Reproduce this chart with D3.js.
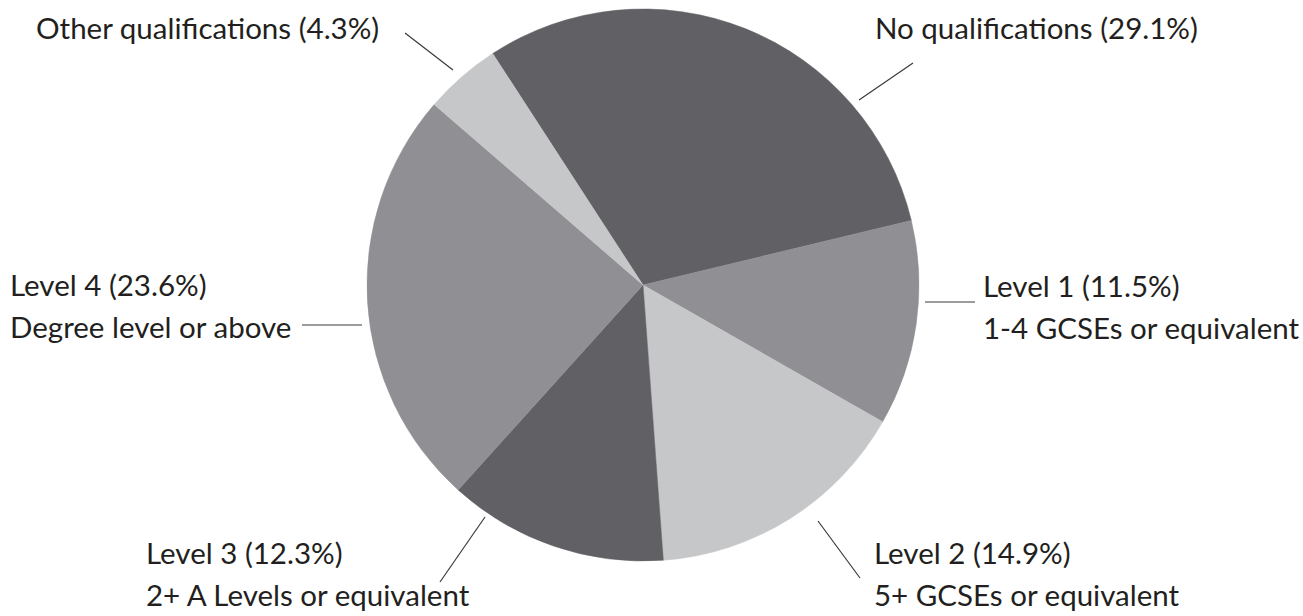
<!DOCTYPE html>
<html>
<head>
<meta charset="utf-8">
<script src="https://cdn.jsdelivr.net/npm/d3@7"></script>
<style>
  html, body { margin: 0; padding: 0; background: #ffffff; }
  svg { display: block; }
</style>
</head>
<body>
<svg id="chart" width="1303" height="616"></svg>
<script>
// ---- data ----
const categories = ["No qualifications", "Level 1", "Level 2", "Level 3", "Level 4", "Other qualifications"];
const values = [29.1, 11.5, 14.9, 12.3, 23.6, 4.3];
const subtitles = ["", "1-4 GCSEs or equivalent", "5+ GCSEs or equivalent", "2+ A Levels or equivalent", "Degree level or above", ""];
const shades = ["dark", "mid", "light", "dark", "mid", "light"];

// ---- styling / layout ----
const palette = { dark: "#616165", mid: "#909094", light: "#c6c7c9" };
const cx = 643, cy = 285, radius = 276;
const startDeg = -33;
const fontSize = 29.5, lineGap = 42;
const labelLayout = [
  { x: 875, y: 39,  line: [[913, 63], [859, 100]] },
  { x: 983, y: 297, line: [[925, 302], [975, 302]] },
  { x: 874, y: 564, line: [[818, 521], [860, 578]] },
  { x: 146, y: 564, line: [[485, 517], [440, 582]] },
  { x: 10,  y: 296, line: [[302, 325], [362, 325]] },
  { x: 36,  y: 39,  line: [[405, 33], [453, 70]] }
];

const svg = d3.select("#chart");
const pie = d3.pie().sort(null).value(d => d.value)
  .startAngle(startDeg * Math.PI / 180)
  .endAngle(startDeg * Math.PI / 180 + 2 * Math.PI);
const arc = d3.arc().innerRadius(0).outerRadius(radius);

const data = categories.map((c, i) => ({ name: c, value: values[i], sub: subtitles[i], shade: shades[i] }));
const arcs = pie(data);

const g = svg.append("g").attr("transform", `translate(${cx},${cy})`);
g.selectAll("path.slice").data(arcs).enter().append("path")
  .attr("class", "slice")
  .attr("d", arc)
  .attr("fill", d => palette[d.data.shade])
  .attr("stroke", d => palette[d.data.shade])
  .attr("stroke-width", 0.5);

const fmt = d3.format(".1f");
const labels = svg.append("g")
  .attr("font-family", "Lato, 'Noto Sans', sans-serif")
  .attr("font-size", fontSize)
  .attr("fill", "#231f20");

data.forEach((d, i) => {
  const L = labelLayout[i];
  labels.append("text").attr("x", L.x).attr("y", L.y)
    .text(`${d.name} (${fmt(d.value)}%)`);
  if (d.sub) {
    labels.append("text").attr("x", L.x).attr("y", L.y + lineGap).text(d.sub);
  }
  svg.append("line")
    .attr("x1", L.line[0][0]).attr("y1", L.line[0][1])
    .attr("x2", L.line[1][0]).attr("y2", L.line[1][1])
    .attr("stroke", "#3a3a3a").attr("stroke-width", 1.2);
});
</script>
</body>
</html>
